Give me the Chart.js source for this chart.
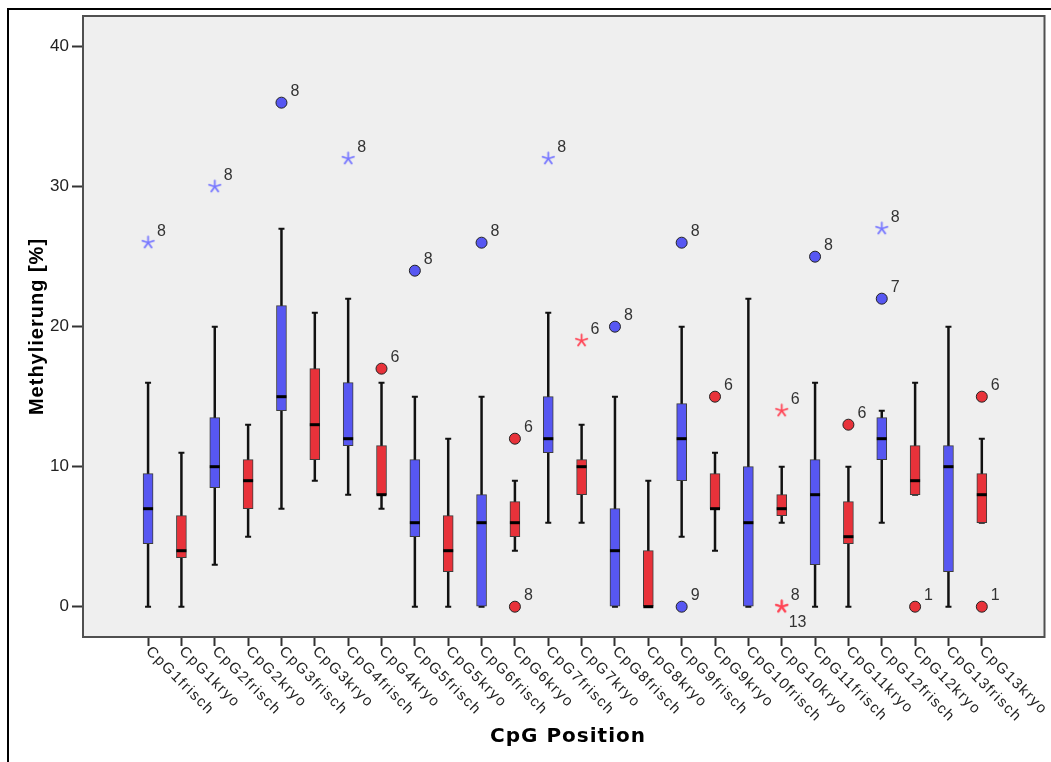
<!DOCTYPE html>
<html>
<head>
<meta charset="utf-8">
<script src="https://cdn.jsdelivr.net/npm/chart.js"></script>
<style>
  html, body { margin: 0; padding: 0; background: #fff; }
  #wrap { width: 1051px; height: 762px; position: relative; }
</style>
</head>
<body>
<div id="wrap"><canvas id="boxChart" width="1051" height="762"></canvas></div>
<script>
// box plot data (Methylierung in %)
const categories = [
  "CpG1frisch", "CpG1kryo", "CpG2frisch", "CpG2kryo", "CpG3frisch", "CpG3kryo",
  "CpG4frisch", "CpG4kryo", "CpG5frisch", "CpG5kryo", "CpG6frisch", "CpG6kryo",
  "CpG7frisch", "CpG7kryo", "CpG8frisch", "CpG8kryo", "CpG9frisch", "CpG9kryo",
  "CpG10frisch", "CpG10kryo", "CpG11frisch", "CpG11kryo", "CpG12frisch", "CpG12kryo",
  "CpG13frisch", "CpG13kryo"
];
const whiskerLow  = [0, 0, 3, 5, 7, 9, 8, 7, 0, 0, 0, 4, 6, 6, 0, 0, 5, 4, 0, 6, 0, 0, 6, 8, 0, 6];
const q1          = [4.5, 3.5, 8.5, 7, 14, 10.5, 11.5, 8, 5, 2.5, 0, 5, 11, 8, 0, 0, 9, 7, 0, 6.5, 3, 4.5, 10.5, 8, 2.5, 6];
const median      = [7, 4, 10, 9, 15, 13, 12, 8, 6, 4, 6, 6, 12, 10, 4, 0, 12, 7, 6, 7, 8, 5, 12, 9, 10, 8];
const q3          = [9.5, 6.5, 13.5, 10.5, 21.5, 17, 16, 11.5, 10.5, 6.5, 8, 7.5, 15, 10.5, 7, 4, 14.5, 9.5, 10, 8, 10.5, 7.5, 13.5, 11.5, 11.5, 9.5];
const whiskerHigh = [16, 11, 20, 13, 27, 21, 22, 16, 15, 12, 15, 9, 21, 13, 15, 9, 20, 11, 22, 10, 16, 10, 14, 16, 20, 12];

// outliers: category index, value, case number, kind ("o" = outlier, "*" = extreme)
const outlierCat   = [0, 2, 4, 6, 7, 8, 10, 11, 11, 12, 13, 14, 16, 16, 17, 19, 19, 19, 20, 21, 22, 22, 23, 25, 25];
const outlierValue = [26, 30, 36, 32, 17, 24, 26, 12, 0, 32, 19, 20, 26, 0, 15, 14, 0, 0, 25, 13, 27, 22, 0, 15, 0];
const outlierCase  = ["8", "8", "8", "8", "6", "8", "8", "6", "8", "8", "6", "8", "8", "9", "6", "6", "8", "13", "8", "6", "8", "7", "1", "6", "1"];
const outlierKind  = ["*", "*", "o", "*", "o", "o", "o", "o", "o", "*", "*", "o", "o", "o", "o", "*", "*", "*", "o", "o", "*", "o", "o", "o", "o"];

const yTicks = [0, 10, 20, 30, 40];

const BLUE = "#5757f2";
const RED = "#e8323a";
const isFrisch = i => i % 2 === 0;

// asterisk marker like the SPSS "extreme" symbol
function makeStar(color) {
  const c = document.createElement("canvas");
  c.width = 15; c.height = 15;
  const g = c.getContext("2d");
  g.strokeStyle = color;
  g.lineWidth = 1.8;
  g.lineCap = "round";
  for (let k = 0; k < 5; k++) {
    const a = -Math.PI / 2 + k * 2 * Math.PI / 5;
    g.beginPath();
    g.moveTo(7.5, 7.5);
    g.lineTo(7.5 + 6 * Math.cos(a), 7.5 + 6 * Math.sin(a));
    g.stroke();
  }
  return c;
}
const starBlue = makeStar("#7878ff");
const starRed = makeStar("#ff4757");

function outlierPoints(kind, frisch) {
  const pts = [];
  outlierCat.forEach((c, k) => {
    if (outlierKind[k] === kind && isFrisch(c) === frisch) {
      pts.push({ x: c, y: outlierValue[k], label: outlierCase[k] });
    }
  });
  return pts;
}

const boxData = categories.map((_, i) => ({ x: i, y: [q1[i], q3[i]] }));

// whiskers below the boxes, medians and case numbers on top
const whiskerPlugin = {
  id: "whiskers",
  beforeDatasetsDraw(chart) {
    const { ctx, scales: { x, y } } = chart;
    ctx.save();
    ctx.strokeStyle = "#111";
    categories.forEach((_, i) => {
      const px = x.getPixelForValue(i);
      const top = y.getPixelForValue(whiskerHigh[i]);
      const bot = y.getPixelForValue(whiskerLow[i]);
      ctx.lineWidth = 2.5;
      ctx.beginPath();
      ctx.moveTo(px, top);
      ctx.lineTo(px, bot);
      ctx.stroke();
      ctx.lineWidth = 2;
      ctx.beginPath();
      ctx.moveTo(px - 3, top); ctx.lineTo(px + 3, top);
      ctx.moveTo(px - 3, bot); ctx.lineTo(px + 3, bot);
      ctx.stroke();
    });
    ctx.restore();
  },
  afterDatasetsDraw(chart) {
    const { ctx, scales: { x, y } } = chart;
    ctx.save();
    ctx.strokeStyle = "#000";
    ctx.lineWidth = 3;
    categories.forEach((_, i) => {
      const px = x.getPixelForValue(i);
      const py = y.getPixelForValue(median[i]);
      ctx.beginPath();
      ctx.moveTo(px - 5, py);
      ctx.lineTo(px + 5, py);
      ctx.stroke();
    });
    ctx.font = "16px 'Liberation Sans', Arial, sans-serif";
    ctx.fillStyle = "#333";
    ctx.textAlign = "left";
    const seen = {};
    chart.data.datasets.forEach((ds, di) => {
      if (ds.type !== "scatter") return;
      chart.getDatasetMeta(di).data.forEach((pt, k) => {
        const key = Math.round(pt.x) + "_" + Math.round(pt.y);
        const lbl = ds.data[k].label;
        if (seen[key]) {
          ctx.textBaseline = "top";
          ctx.fillText(lbl, pt.x + 7, pt.y + 8);
        } else {
          ctx.textBaseline = "alphabetic";
          ctx.fillText(lbl, pt.x + 9, pt.y - 7);
        }
        seen[key] = true;
      });
    });
    ctx.restore();
  }
};

// frame, grey plot area, rotated category labels and axis titles
const framePlugin = {
  id: "frame",
  beforeDraw(chart) {
    const { ctx, chartArea: a } = chart;
    ctx.save();
    ctx.fillStyle = "#fff";
    ctx.fillRect(0, 0, chart.width, chart.height);
    ctx.fillStyle = "#efefef";
    ctx.fillRect(a.left, a.top, a.right - a.left, a.bottom - a.top);
    ctx.strokeStyle = "#000";
    ctx.lineWidth = 2;
    ctx.beginPath();
    ctx.moveTo(8, chart.height);
    ctx.lineTo(8, 9);
    ctx.lineTo(chart.width, 9);
    ctx.stroke();
    ctx.restore();
  },
  afterDraw(chart) {
    const { ctx, chartArea: a, scales: { x } } = chart;
    ctx.save();
    ctx.strokeStyle = "#505050";
    ctx.lineWidth = 2;
    ctx.strokeRect(a.left, a.top, a.right - a.left, a.bottom - a.top);

    ctx.fillStyle = "#222";
    ctx.font = "15px 'Liberation Sans', Arial, sans-serif";
    ctx.letterSpacing = "1.5px";
    ctx.textAlign = "left";
    ctx.textBaseline = "middle";
    categories.forEach((name, i) => {
      const px = x.getPixelForValue(i);
      ctx.save();
      ctx.translate(px, a.bottom + 12);
      ctx.rotate(Math.PI / 4);
      ctx.fillText(name, 0, 0);
      ctx.restore();
    });

    ctx.fillStyle = "#000";
    ctx.textAlign = "center";
    ctx.letterSpacing = "1px";
    ctx.font = "bold 20px 'DejaVu Sans', Verdana, sans-serif";
    ctx.fillText("CpG Position", 568, 737);

    ctx.font = "bold 20px 'Liberation Sans', Arial, sans-serif";
    ctx.translate(37, (a.top + a.bottom) / 2);
    ctx.rotate(-Math.PI / 2);
    ctx.fillText("Methylierung [%]", 0, 0);
    ctx.restore();
  }
};

new Chart(document.getElementById("boxChart"), {
  type: "bar",
  data: {
    datasets: [
      {
        type: "bar",
        data: boxData,
        backgroundColor: categories.map((_, i) => isFrisch(i) ? BLUE : RED),
        borderColor: "#3c3c3c",
        borderWidth: 1,
        borderSkipped: false,
        barThickness: 10,
        order: 2
      },
      {
        type: "scatter",
        data: outlierPoints("o", true),
        pointStyle: "circle",
        pointRadius: 5.5,
        pointBackgroundColor: BLUE,
        pointBorderColor: "#222",
        pointBorderWidth: 1,
        order: 1
      },
      {
        type: "scatter",
        data: outlierPoints("o", false),
        pointStyle: "circle",
        pointRadius: 5.5,
        pointBackgroundColor: RED,
        pointBorderColor: "#222",
        pointBorderWidth: 1,
        order: 1
      },
      {
        type: "scatter",
        data: outlierPoints("*", true),
        pointStyle: starBlue,
        order: 1
      },
      {
        type: "scatter",
        data: outlierPoints("*", false),
        pointStyle: starRed,
        order: 1
      }
    ]
  },
  options: {
    responsive: false,
    animation: false,
    layout: { padding: { left: 0, top: 16, right: 3, bottom: 0 } },
    plugins: {
      legend: { display: false },
      tooltip: { enabled: false }
    },
    scales: {
      x: {
        type: "linear",
        offset: false,
        min: -1.951,
        max: 26.88,
        afterBuildTicks: s => { s.ticks = categories.map((_, i) => ({ value: i })); },
        afterFit: s => { s.height = 125; },
        ticks: { display: false },
        grid: { offset: false, drawOnChartArea: false, drawTicks: true, tickLength: 9, tickWidth: 2, tickColor: "#333" },
        border: { display: false }
      },
      y: {
        min: -2.164,
        max: 42.19,
        afterBuildTicks: s => { s.ticks = yTicks.map(v => ({ value: v })); },
        afterFit: s => { s.width = 83; },
        ticks: {
          padding: 3,
          color: "#222",
          font: { family: "'Liberation Sans', Arial, sans-serif", size: 17 }
        },
        grid: { drawOnChartArea: false, drawTicks: true, tickLength: 11, tickWidth: 2, tickColor: "#333" },
        border: { display: false }
      }
    }
  },
  plugins: [framePlugin, whiskerPlugin]
});
</script>
</body>
</html>
